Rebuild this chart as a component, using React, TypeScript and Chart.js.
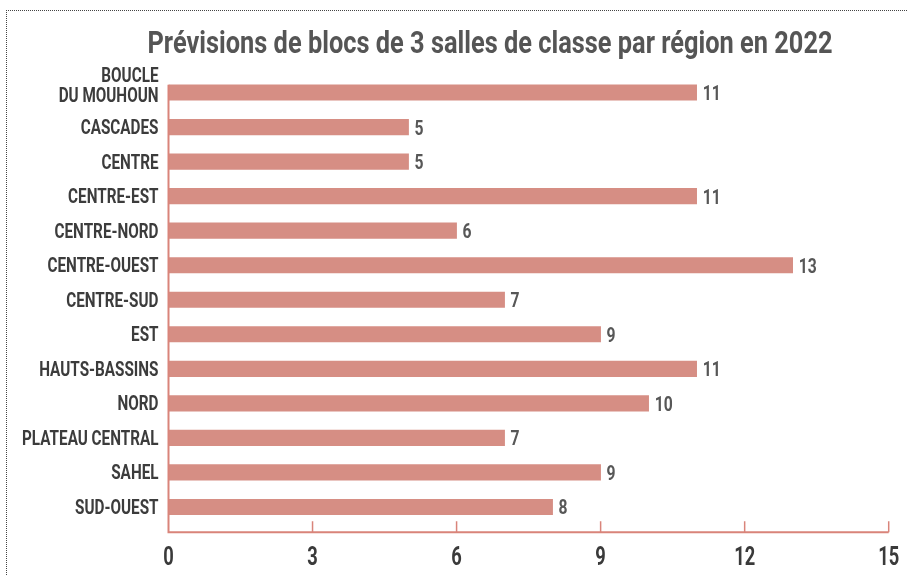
import React, { useEffect, useRef } from "react";
import { Chart, registerables } from "chart.js";

Chart.register(...registerables);

const TITLE = "Prévisions de blocs de 3 salles de classe par région en 2022";
const REGIONS: (string | string[])[] = [
  ["BOUCLE", "DU MOUHOUN"],
  "CASCADES",
  "CENTRE",
  "CENTRE-EST",
  "CENTRE-NORD",
  "CENTRE-OUEST",
  "CENTRE-SUD",
  "EST",
  "HAUTS-BASSINS",
  "NORD",
  "PLATEAU CENTRAL",
  "SAHEL",
  "SUD-OUEST",
];
const BLOCS = [11, 5, 5, 11, 6, 13, 7, 9, 11, 10, 7, 9, 8];
const X_MIN = 0;
const X_MAX = 15;
const X_STEP = 3;

const FONT = 'Roboto, "DejaVu Sans Condensed", sans-serif';
const BAR_COLOR = "#d68e84";
const AXIS_COLOR = "#d9847a";
const BAR_THICK = 15.5;

// draw horizontally condensed text (calibrated so a sample string has a given width)
function condensedText(
  ctx: CanvasRenderingContext2D,
  text: string,
  x: number,
  y: number,
  align: CanvasTextAlign,
  font: string,
  sx: number
) {
  ctx.save();
  ctx.font = font;
  ctx.textAlign = align;
  ctx.textBaseline = "alphabetic";
  ctx.translate(x, y);
  ctx.scale(sx, 1);
  ctx.fillText(text, 0, 0);
  ctx.restore();
}

function scaleFor(ctx: CanvasRenderingContext2D, font: string, sample: string, width: number) {
  ctx.save();
  ctx.font = font;
  const w = ctx.measureText(sample).width;
  ctx.restore();
  return w > 0 ? width / w : 1;
}

const decor = {
  id: "decor",
  afterDatasetsDraw(chart: any) {
    const { ctx, chartArea: ca, scales } = chart;
    const x = scales.x;
    const y = scales.y;
    ctx.save();

    // title
    const titleFont = `bold 31px ${FONT}`;
    ctx.fillStyle = "#555555";
    condensedText(ctx, TITLE, 490, 53, "center", titleFont, scaleFor(ctx, titleFont, TITLE, 685));

    // axes
    const axisY = ca.bottom + 8;
    const x0 = x.getPixelForValue(X_MIN);
    const x1 = x.getPixelForValue(X_MAX);
    const topY = y.getPixelForValue(0) - BAR_THICK / 2;
    ctx.strokeStyle = AXIS_COLOR;
    ctx.lineWidth = 2;
    ctx.beginPath();
    ctx.moveTo(x0, topY);
    ctx.lineTo(x0, axisY);
    ctx.lineTo(x1, axisY);
    ctx.stroke();
    ctx.lineWidth = 1.5;
    x.ticks.forEach((t: any) => {
      if (t.value === X_MIN) return;
      const px = x.getPixelForValue(t.value);
      ctx.beginPath();
      ctx.moveTo(px, axisY);
      ctx.lineTo(px, axisY - 11);
      ctx.stroke();
    });

    // x tick labels
    const tickFont = `bold 26px ${FONT}`;
    const tickSx = scaleFor(ctx, tickFont, "12", 21);
    ctx.fillStyle = "#3a3a3a";
    x.ticks.forEach((t: any) => {
      const px = x.getPixelForValue(t.value);
      condensedText(ctx, String(t.value), px, axisY + 33, "center", tickFont, tickSx);
    });

    // category labels
    const catFont = `bold 20px ${FONT}`;
    const catSx = scaleFor(ctx, catFont, "CENTRE-OUEST", 111);
    ctx.fillStyle = "#3c3c3c";
    const labels = chart.data.labels as (string | string[])[];
    labels.forEach((lab, i) => {
      const py = y.getPixelForValue(i);
      if (Array.isArray(lab)) {
        lab.forEach((ln, k) => {
          condensedText(ctx, ln, x0 - 10, py + 9 - 19.5 * (lab.length - 1 - k), "right", catFont, catSx);
        });
      } else {
        condensedText(ctx, lab, x0 - 10, py + 7, "right", catFont, catSx);
      }
    });

    // value labels
    const valFont = `bold 21px ${FONT}`;
    const valSx = scaleFor(ctx, valFont, "13", 18);
    ctx.fillStyle = "#575757";
    const meta = chart.getDatasetMeta(0);
    meta.data.forEach((bar: any, i: number) => {
      condensedText(ctx, String(BLOCS[i]), bar.x + 6, bar.y + 7.5, "left", valFont, valSx);
    });

    ctx.restore();
  },
};

export default function App() {
  const ref = useRef<HTMLCanvasElement | null>(null);
  useEffect(() => {
    if (!ref.current) return;
    const chart = new Chart(ref.current, {
      type: "bar",
      data: {
        labels: REGIONS as any,
        datasets: [
          {
            data: BLOCS,
            backgroundColor: BAR_COLOR,
            borderWidth: 0,
            barThickness: BAR_THICK,
          },
        ],
      },
      options: {
        indexAxis: "y",
        responsive: false,
        animation: false,
        devicePixelRatio: 1,
        layout: { padding: { left: 168.5, right: 18.3, top: 75.25, bottom: 51.75 } },
        plugins: {
          legend: { display: false },
          title: { display: false },
          tooltip: { enabled: false },
        },
        scales: {
          x: {
            min: X_MIN,
            max: X_MAX,
            grid: { display: false, drawTicks: false },
            border: { display: false },
            ticks: { stepSize: X_STEP, display: false },
            afterFit: (s: any) => {
              s.height = 0;
              s.paddingLeft = 0;
              s.paddingRight = 0;
              s.paddingTop = 0;
              s.paddingBottom = 0;
            },
          },
          y: {
            type: "category",
            display: false,
            offset: true,
            grid: { display: false },
          },
        },
      },
      plugins: [decor],
    });
    return () => chart.destroy();
  }, []);

  return (
    <div style={{ position: "fixed", left: 0, top: 0, width: 907, height: 576, background: "#fff", overflow: "hidden" }}>
      <div
        style={{
          position: "absolute",
          left: 6,
          top: 10,
          width: 1200,
          height: 1200,
          borderTop: "1px dotted #444",
          borderLeft: "1px dotted #444",
        }}
      />
      <canvas ref={ref} width={907} height={576} style={{ position: "absolute", left: 0, top: 0 }} />
    </div>
  );
}
